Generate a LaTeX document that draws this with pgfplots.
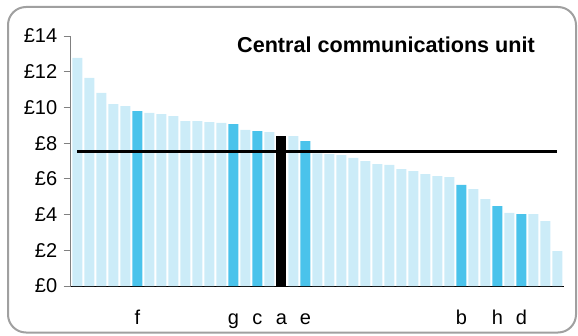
\documentclass[border=0pt]{standalone}
\usepackage{pgfplots}
\usepackage{pgfplotstable}
\pgfplotsset{compat=1.18}
\usepackage{fontspec}
\setmainfont{Liberation Sans}
\definecolor{lightb}{RGB}{204,236,248}
\definecolor{midb}{RGB}{74,195,235}
\definecolor{framec}{RGB}{160,160,160}

\pgfplotstableread{
x y
0 12.77
1 11.65
2 10.81
3 10.19
4 10.08
6 9.69
7 9.63
8 9.52
9 9.24
10 9.24
11 9.18
12 9.13
14 8.74
16 8.62
18 8.40
20 7.43
21 7.39
22 7.33
23 7.17
24 7.00
25 6.83
26 6.78
27 6.55
28 6.44
29 6.27
30 6.16
31 6.10
33 5.43
34 4.87
36 4.09
38 4.03
39 3.64
40 1.96
}\lightdata

\pgfplotstableread{
x y
5 9.80
13 9.07
15 8.68
19 8.12
32 5.66
35 4.48
37 4.03
}\middata

\pgfplotstableread{
x y
17 8.40
}\blackdata

\pgfplotstableread{
x y
0 7.56
40 7.56
}\avgdata

\begin{document}
\begin{tikzpicture}[x=1pt,y=1pt]
\useasboundingbox (0,0) rectangle (578,335);
\draw[framec, line width=2pt, rounded corners=18pt] (8,2.5) rectangle (576,328);
\begin{axis}[
  at={(70.7pt,49pt)}, anchor=south west,
  scale only axis, width=493.3pt, height=250pt,
  xmin=-0.55, xmax=40.55, ymin=0, ymax=14,
  axis lines*=left,
  axis line style={-},
  x axis line style={black, line width=1pt},
  y axis line style={gray, line width=1pt},
  ytick={0,2,...,14},
  tick align=outside,
  major tick length=7pt,
  ytick style={gray, line width=0.8pt},
  xtick style={draw=none},
  xtick={5,13,15,17,19,32,35,37},
  xticklabels={f,g,c,a,e,b,h,d},
  xticklabel style={anchor=base, yshift=-31pt, font=\fontsize{20}{23}\selectfont},
  yticklabel style={font=\fontsize{20}{23}\selectfont, xshift=-3pt},
  /pgf/number format/assume math mode=true,
  yticklabel={£\pgfmathprintnumber{\tick}},
  clip=false,
]
\addplot[ybar, bar width=10pt, bar shift=0pt, fill=lightb, draw=none] table {\lightdata};
\addplot[ybar, bar width=10pt, bar shift=0pt, fill=midb, draw=none] table {\middata};
\addplot[ybar, bar width=10pt, bar shift=0pt, fill=black, draw=none] table {\blackdata};
\addplot[black, line width=3pt, no marks] table {\avgdata};
\end{axis}
\node at (386,290.5) {\bfseries\fontsize{21.6}{25}\selectfont Central communications unit};
\end{tikzpicture}
\end{document}
